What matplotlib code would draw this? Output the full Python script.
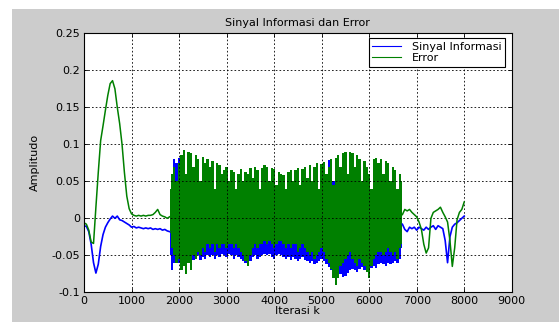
import numpy as np
import matplotlib
matplotlib.use("Agg")
from matplotlib import pyplot as plt
from matplotlib.patches import Rectangle

# ---- data ----
# quiet start, k = 0..1800 every 50
info_start = [-0.010, -0.011, -0.018, -0.035, -0.060, -0.074, -0.062, -0.038, -0.022, -0.012,
              -0.006, -0.001, 0.003, 0.000, 0.003, -0.002, -0.003, -0.005, -0.007, -0.009,
              -0.012, -0.011, -0.013, -0.012, -0.013, -0.014, -0.013, -0.014, -0.013, -0.015,
              -0.014, -0.015, -0.014, -0.016, -0.015, -0.017, -0.018]
err_start = [-0.006, -0.008, -0.016, -0.032, -0.034, 0.015, 0.062, 0.105, 0.125, 0.146,
             0.166, 0.182, 0.186, 0.175, 0.150, 0.128, 0.100, 0.062, 0.030, 0.013,
             0.006, 0.004, 0.003, 0.004, 0.003, 0.004, 0.003, 0.004, 0.004, 0.005,
             0.008, 0.012, 0.005, 0.003, 0.002, 0.000, 0.002]

# dense part, k = 1800..6700, peak and trough of the oscillation per 50 iterations
err_peak = [0.040, 0.060,
            0.070, 0.050, 0.075,
            0.085, 0.092, 0.060, 0.090, 0.088, 0.070,
            0.085, 0.080, 0.050, 0.083, 0.075, 0.080,
            0.070, 0.078, 0.040, 0.075, 0.072, 0.060,
            0.065, 0.070, 0.050, 0.065, 0.062, 0.040,
            0.060, 0.066, 0.050, 0.062, 0.060, 0.068,
            0.055, 0.070, 0.065, 0.040, 0.068, 0.072,
            0.070, 0.050, 0.068, 0.066, 0.045, 0.062,
            0.060, 0.058, 0.040, 0.062, 0.065, 0.050,
            0.065, 0.068, 0.045, 0.066, 0.070, 0.055,
            0.072, 0.050, 0.070, 0.075, 0.040, 0.074,
            0.076, 0.060, 0.070, 0.080, 0.045, 0.082,
            0.085, 0.070, 0.088, 0.090, 0.060, 0.090,
            0.088, 0.070, 0.085, 0.080, 0.050, 0.078,
            0.070, 0.060, 0.040, 0.080, 0.082, 0.075,
            0.080, 0.060, 0.078, 0.075, 0.050, 0.070,
            0.065, 0.040, 0.060, 0.050]
err_trough = [-0.020, -0.040,
              -0.050, -0.060, -0.055,
              -0.070, -0.065, -0.075, -0.060, -0.070, -0.050,
              -0.055, -0.045, -0.050, -0.040, -0.045, -0.035,
              -0.040, -0.035, -0.045, -0.035, -0.040, -0.035,
              -0.035, -0.040, -0.035, -0.035, -0.040, -0.035,
              -0.040, -0.045, -0.050, -0.058, -0.065, -0.050,
              -0.040, -0.035, -0.040, -0.035, -0.035, -0.030,
              -0.035, -0.030, -0.035, -0.040, -0.035, -0.030,
              -0.030, -0.035, -0.040, -0.035, -0.040, -0.035,
              -0.035, -0.045, -0.040, -0.035, -0.040, -0.045,
              -0.050, -0.045, -0.055, -0.050, -0.045, -0.040,
              -0.045, -0.055, -0.060, -0.068, -0.080, -0.090,
              -0.080, -0.065, -0.060, -0.055, -0.050, -0.045,
              -0.055, -0.060, -0.065, -0.055, -0.060, -0.065,
              -0.072, -0.080, -0.065, -0.055, -0.050, -0.045,
              -0.045, -0.050, -0.045, -0.040, -0.045, -0.050,
              -0.045, -0.055, -0.040, -0.035]
info_peak = [0.030, 0.060,
             0.080, 0.075, 0.082,
             0.070, 0.050, 0.040, 0.045, 0.040, 0.035,
             0.040, 0.035, 0.040, 0.038, 0.035, 0.040,
             0.035, 0.040, 0.035, 0.038, 0.040, 0.035,
             0.040, 0.035, 0.045, 0.040, 0.035, 0.038,
             0.040, 0.035, 0.040, 0.045, 0.050, 0.054,
             0.040, 0.035, 0.040, 0.038, 0.035, 0.040,
             0.040, 0.035, 0.040, 0.038, 0.035, 0.040,
             0.035, 0.040, 0.038, 0.040, 0.045, 0.050,
             0.040, 0.035, 0.040, 0.045, 0.040, 0.035,
             0.040, 0.038, 0.040, 0.035, 0.040, 0.045,
             0.050, 0.060, 0.079, 0.060, 0.050, 0.045,
             0.040, 0.050, 0.060, 0.070, 0.050, 0.040,
             0.040, 0.045, 0.040, 0.035, 0.040, 0.045,
             0.040, 0.045, 0.040, 0.045, 0.040, 0.035,
             0.040, 0.035, 0.040, 0.045, 0.050, 0.052,
             0.045, 0.040, 0.035, 0.030]
info_trough = [-0.050, -0.070,
               -0.060, -0.055, -0.060,
               -0.058, -0.055, -0.060, -0.055, -0.052, -0.056,
               -0.055, -0.050, -0.056, -0.052, -0.055, -0.050,
               -0.052, -0.050, -0.055, -0.050, -0.052, -0.048,
               -0.050, -0.052, -0.048, -0.050, -0.055, -0.050,
               -0.052, -0.055, -0.058, -0.060, -0.062, -0.058,
               -0.052, -0.050, -0.055, -0.052, -0.050, -0.048,
               -0.050, -0.048, -0.052, -0.055, -0.050, -0.048,
               -0.050, -0.052, -0.055, -0.052, -0.056, -0.052,
               -0.055, -0.058, -0.055, -0.052, -0.056, -0.058,
               -0.060, -0.058, -0.062, -0.060, -0.058, -0.055,
               -0.058, -0.062, -0.066, -0.070, -0.072, -0.068,
               -0.070, -0.075, -0.079, -0.078, -0.074, -0.070,
               -0.068, -0.070, -0.072, -0.068, -0.066, -0.070,
               -0.068, -0.066, -0.067, -0.065, -0.067, -0.062,
               -0.060, -0.062, -0.065, -0.060, -0.062, -0.060,
               -0.058, -0.060, -0.055, -0.040]

# quiet end, k = 6700..8000 every 50
info_end = [-0.008, -0.015, -0.018, -0.012, -0.014, -0.012, -0.016, -0.012, -0.014, -0.016,
            -0.012, -0.015, -0.012, -0.010, -0.015, -0.010, -0.012, -0.014, -0.030, -0.060,
            -0.025, -0.012, -0.008, -0.006, -0.003, 0.000, 0.003]
err_end = [0.005, 0.012, 0.010, 0.012, 0.008, 0.005, 0.002, -0.005, -0.015, -0.035,
           -0.047, -0.040, 0.000, 0.008, 0.010, 0.012, 0.015, 0.008, 0.002, -0.005,
           -0.030, -0.065, -0.040, -0.002, 0.008, 0.012, 0.022]

legend_labels = ["Sinyal Informasi", "Error"]
xticks = [0, 1000, 2000, 3000, 4000, 5000, 6000, 7000, 8000, 9000]
yticks = [-0.1, -0.05, 0, 0.05, 0.1, 0.15, 0.2, 0.25]
ytick_labels = ["-0.1", "-0.05", "0", "0.05", "0.1", "0.15", "0.2", "0.25"]

k_start = np.arange(len(info_start)) * 50
k_dense = np.linspace(1800, 6700, len(err_peak))
k_end = 6700 + np.arange(len(info_end)) * 50

plt.rcParams["font.family"] = ["DejaVu Sans"]

fig = plt.figure(figsize=(5.59, 3.22), dpi=100)
fig.patch.set_facecolor("white")
fig.patches.append(Rectangle((12 / 559, 0), 1 - 12 / 559, 313 / 322, transform=fig.transFigure,
                             facecolor="#cccccc", edgecolor="none", zorder=-10))

ax = fig.add_axes([0.1503, 0.0922, 0.7651, 0.8044])
ax.set_facecolor("white")

blue = "#0000ff"
green = "#008000"

# Sinyal Informasi first, Error drawn over it
ax.plot(k_start, info_start, color=blue, lw=1.2, label=legend_labels[0])
ax.fill_between(k_dense, info_trough, info_peak, step="mid", color=blue, lw=0)
ax.plot(k_end, info_end, color=blue, lw=1.2)

ax.plot(k_start, err_start, color=green, lw=1.1, label=legend_labels[1])
ax.fill_between(k_dense, err_trough, err_peak, step="mid", color=green, lw=0)
ax.plot(k_end, err_end, color=green, lw=1.1)

ax.set_xlim(0, 9000)
ax.set_ylim(-0.1, 0.25)
ax.set_xticks(xticks)
ax.set_xticklabels([str(t) for t in xticks])
ax.set_yticks(yticks)
ax.set_yticklabels(ytick_labels)
ax.tick_params(direction="in", length=3, width=0.6, top=True, right=True,
               labelsize=8, pad=3, colors="black")
ax.grid(True, color="black", linestyle=(0, (2, 2.5)), linewidth=0.6)
for s in ax.spines.values():
    s.set_linewidth(0.8)
    s.set_color("black")

ax.set_title("Sinyal Informasi dan Error", fontsize=8, pad=5)
ax.set_xlabel("Iterasi k", fontsize=8, labelpad=0)
ax.set_ylabel("Amplitudo", fontsize=8, labelpad=8)

leg = ax.legend(loc="upper right", bbox_to_anchor=(0.984, 0.981), borderaxespad=0,
                fontsize=8, fancybox=False, framealpha=1, edgecolor="black",
                handlelength=2.6, handletextpad=1.0, labelspacing=0.15, borderpad=0.3)
leg.get_frame().set_linewidth(0.8)
for line in leg.get_lines():
    line.set_linewidth(0.8)

fig.savefig("out.png", dpi=100)
